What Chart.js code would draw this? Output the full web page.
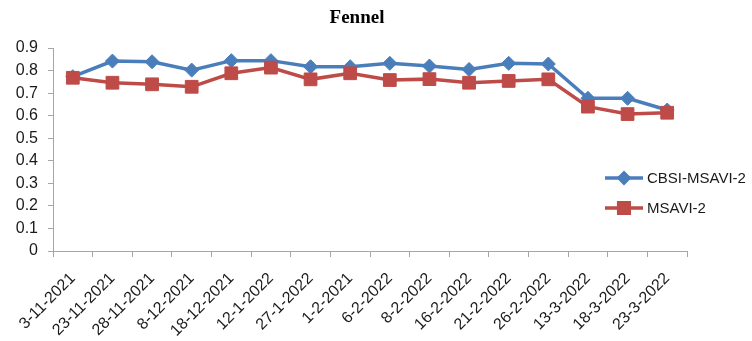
<!DOCTYPE html>
<html>
<head>
<meta charset="utf-8">
<script src="https://cdn.jsdelivr.net/npm/chart.js@4/dist/chart.umd.min.js"></script>
<style>
  html, body { margin: 0; padding: 0; background: #ffffff; }
  canvas { display: block; }
</style>
</head>
<body>
<canvas id="chart" width="752" height="341"></canvas>
<script>
// Acquisition dates and index values
const dates = ['3-11-2021', '23-11-2021', '28-11-2021', '8-12-2021', '18-12-2021', '12-1-2022',
  '27-1-2022', '1-2-2021', '6-2-2022', '8-2-2022', '16-2-2022', '21-2-2022', '26-2-2022',
  '13-3-2022', '18-3-2022', '23-3-2022'];
const cbsiMsavi2 = [0.773, 0.842, 0.839, 0.802, 0.844, 0.844, 0.817, 0.817, 0.832, 0.820,
  0.805, 0.832, 0.829, 0.677, 0.677, 0.625];
const msavi2 = [0.768, 0.746, 0.739, 0.728, 0.788, 0.813, 0.761, 0.788, 0.758, 0.762,
  0.746, 0.754, 0.761, 0.640, 0.607, 0.613];
const yTicks = [0, 0.1, 0.2, 0.3, 0.4, 0.5, 0.6, 0.7, 0.8, 0.9];

const chartTitle = 'Fennel';
const BLUE = '#4A7EBB';
const RED = '#BE4B48';
const AXIS = '#a6a6a6';
const TEXT = '#1a1a1a';
const SANS = '"Liberation Sans", Arial, sans-serif';

// Title and legend drawn on the canvas after the chart
const legendMarkerRadius = { rectRot: 5, rect: 7.5 };
const overlay = {
  id: 'overlay',
  afterDraw(chart) {
    const ctx = chart.ctx;
    ctx.save();
    ctx.fillStyle = '#000';
    ctx.font = 'bold 19px "Liberation Serif", "Times New Roman", serif';
    ctx.textAlign = 'center';
    ctx.textBaseline = 'middle';
    ctx.fillText(chartTitle, 357, 18);

    const rows = [178, 208];
    chart.data.datasets.forEach((ds, i) => {
      const y = rows[i];
      ctx.strokeStyle = ds.borderColor;
      ctx.lineWidth = ds.borderWidth;
      ctx.beginPath();
      ctx.moveTo(605, y);
      ctx.lineTo(643, y);
      ctx.stroke();
      ctx.beginPath();
      Chart.helpers.drawPoint(ctx, {
        pointStyle: ds.pointStyle,
        radius: legendMarkerRadius[ds.pointStyle],
        borderWidth: 1
      }, 624, y);
      ctx.fillStyle = ds.borderColor;
      ctx.fill();
      ctx.fillStyle = TEXT;
      ctx.font = '15px ' + SANS;
      ctx.textAlign = 'left';
      ctx.textBaseline = 'middle';
      ctx.fillText(ds.label, 647, y + 1);
    });
    ctx.restore();
  }
};

new Chart(document.getElementById('chart'), {
  type: 'line',
  data: {
    labels: dates,
    datasets: [
      {
        label: 'CBSI-MSAVI-2',
        data: cbsiMsavi2,
        borderColor: BLUE,
        backgroundColor: BLUE,
        borderWidth: 3.5,
        pointStyle: 'rectRot',
        pointRadius: 7,
        pointBorderWidth: 1,
        pointBorderColor: BLUE,
        tension: 0,
        order: 1
      },
      {
        label: 'MSAVI-2',
        data: msavi2,
        borderColor: RED,
        backgroundColor: RED,
        borderWidth: 3.5,
        pointStyle: 'rect',
        pointRadius: 9,
        pointBorderWidth: 1,
        pointBorderColor: RED,
        tension: 0,
        order: 0
      }
    ]
  },
  options: {
    responsive: false,
    animation: false,
    layout: { padding: { top: 48, right: 65, left: 0, bottom: 0 } },
    plugins: {
      legend: { display: false },
      title: { display: false },
      tooltip: { enabled: false }
    },
    scales: {
      x: {
        offset: true,
        afterFit(scale) { scale.height = 90; },
        grid: {
          offset: true,
          drawOnChartArea: false,
          color: AXIS,
          tickLength: 6
        },
        border: { display: true, color: AXIS, width: 1 },
        ticks: {
          autoSkip: false,
          maxRotation: 45,
          minRotation: 45,
          padding: 12,
          color: TEXT,
          font: { family: SANS, size: 16 }
        }
      },
      y: {
        min: 0,
        max: 0.9,
        afterFit(scale) { scale.width = 53; },
        afterBuildTicks(scale) { scale.ticks = yTicks.map(v => ({ value: v })); },
        grid: {
          drawOnChartArea: false,
          color: AXIS,
          tickLength: 5
        },
        border: { display: true, color: AXIS, width: 1 },
        ticks: {
          padding: 10,
          color: TEXT,
          font: { family: SANS, size: 16 },
          callback: v => String(Math.round(v * 10) / 10)
        }
      }
    }
  },
  plugins: [overlay]
});
</script>
</body>
</html>
